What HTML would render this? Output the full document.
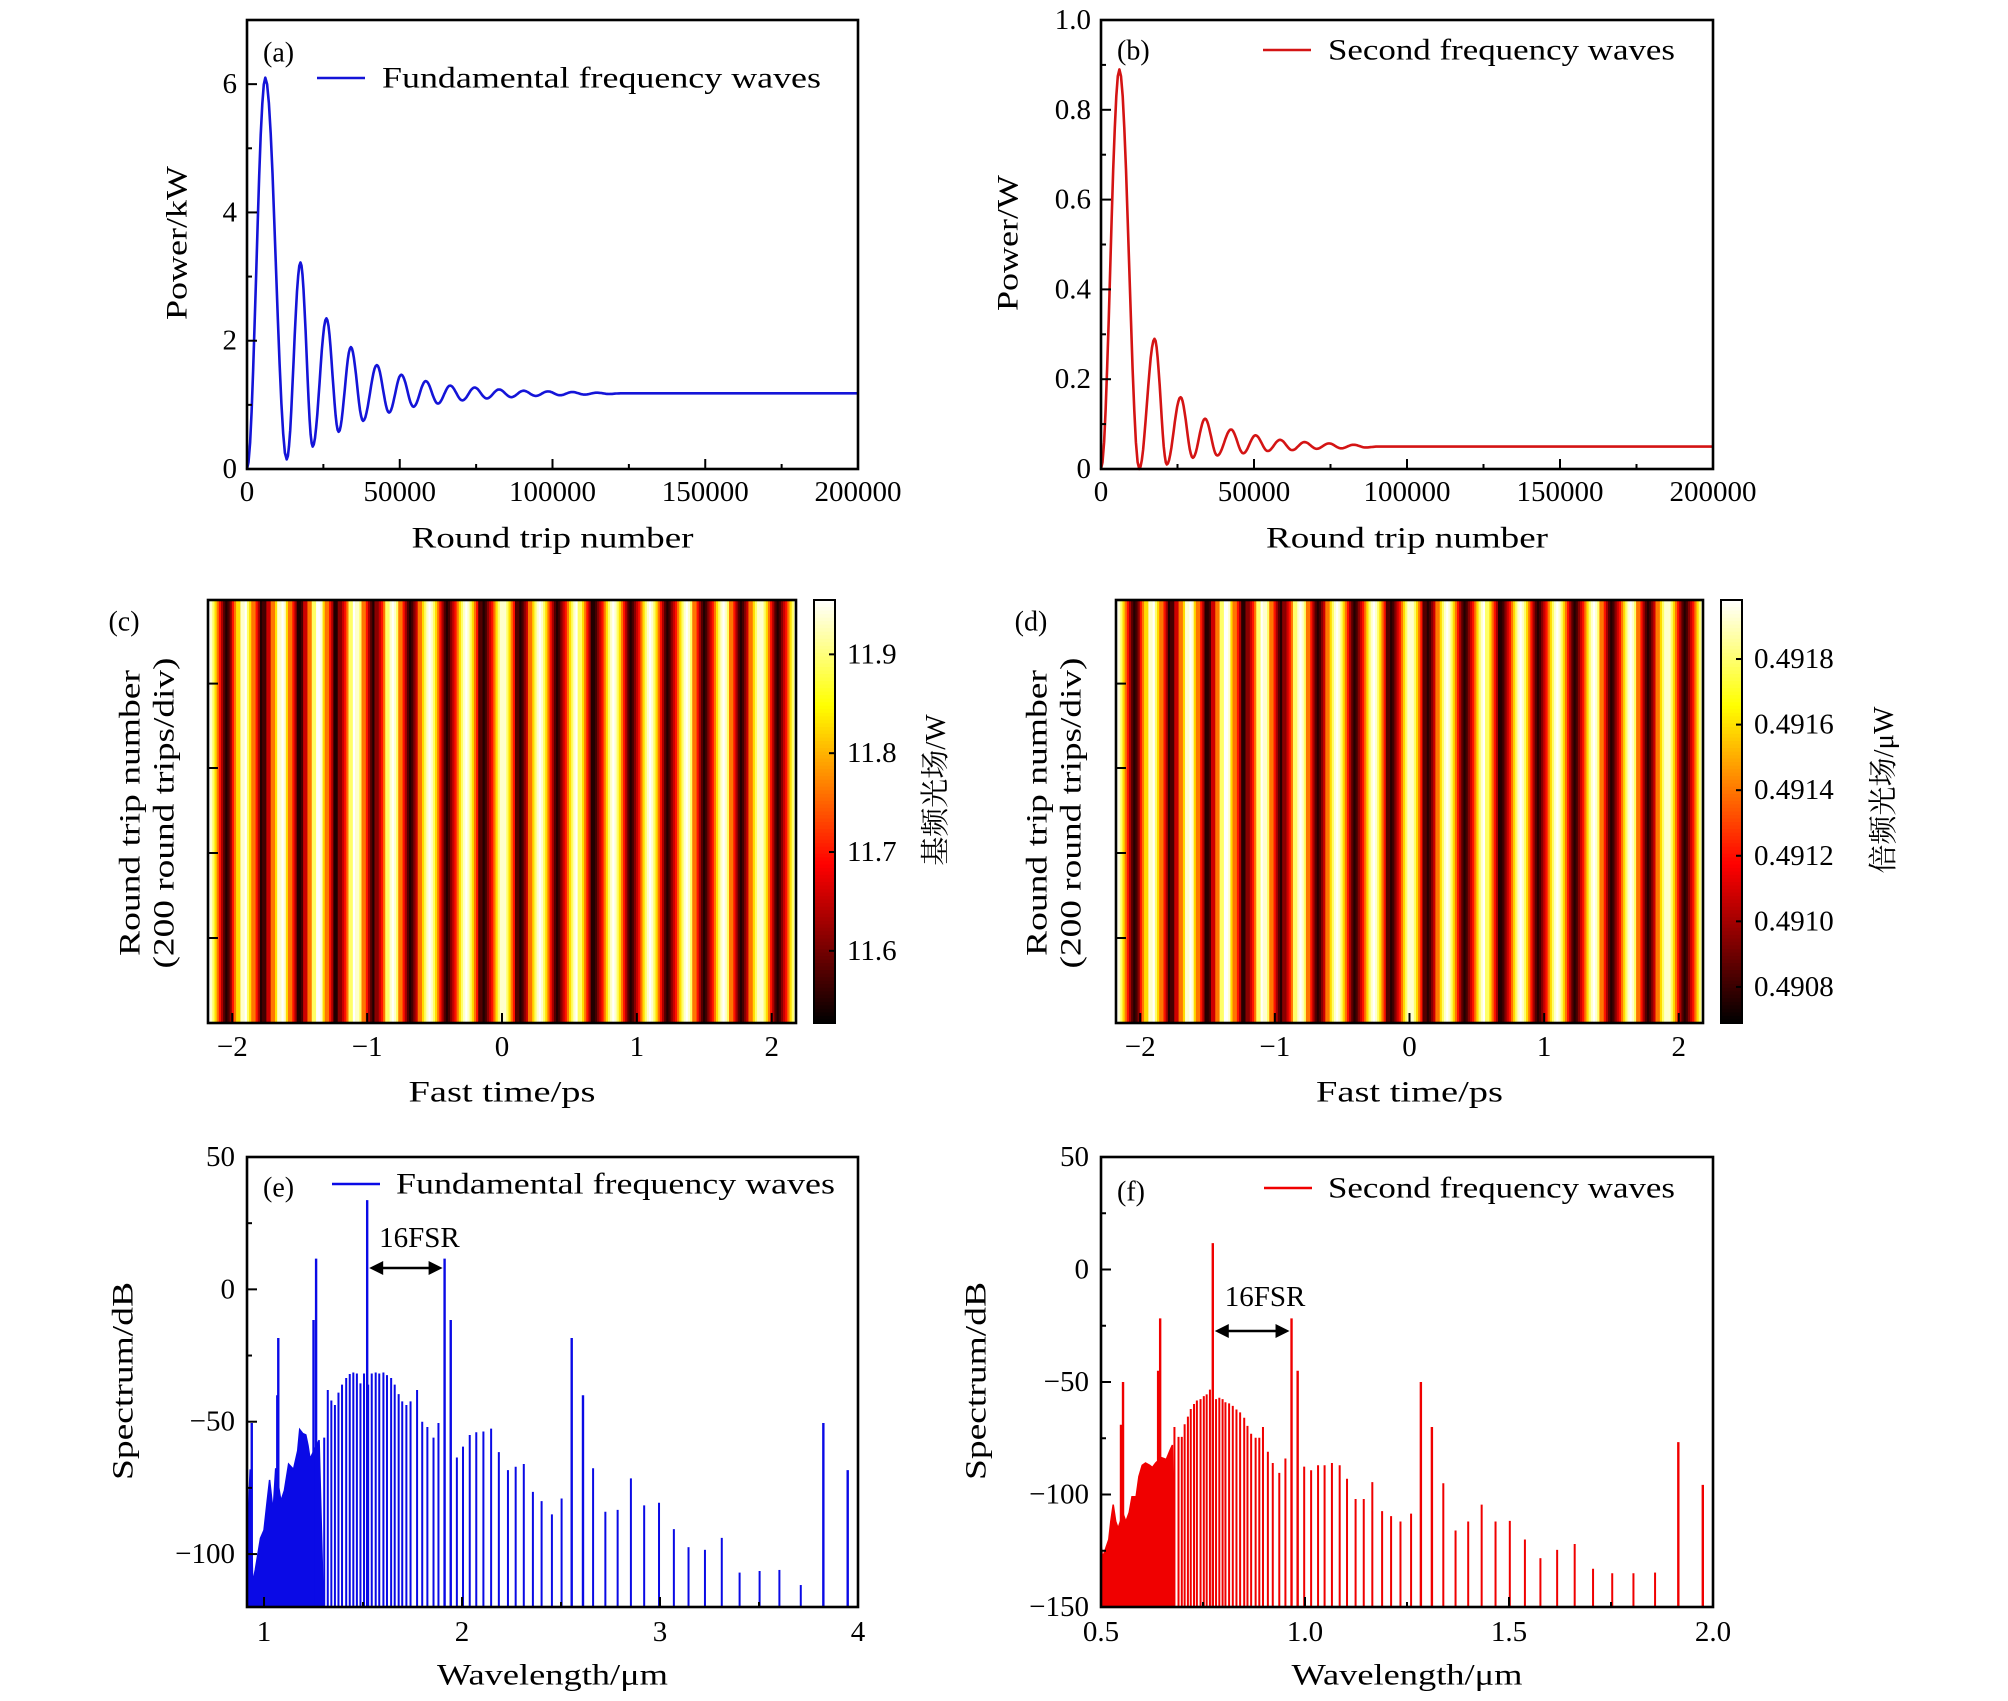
<!DOCTYPE html>
<html><head><meta charset="utf-8"><title>Figure</title>
<style>html,body{margin:0;padding:0;background:#fff}svg{display:block}text{font-family:"Liberation Serif","Noto Serif CJK SC",serif;fill:#000}</style>
</head><body>
<svg id="fig" width="2008" height="1701" viewBox="0 0 2008 1701" xmlns="http://www.w3.org/2000/svg"></svg>
<script>
// ---------- data ----------
const aX=[0,6000,13000,17500,21500,26000,30000,34000,38000,42500,46500,50500,54500,58500,62500,66500,70500,74500,78500,82500,86500,90500,94500,98500,102500,106500,110500,114500,118500,122500,200000];
const aY=[0,6.1,0.15,3.22,0.35,2.35,0.58,1.9,0.75,1.62,0.88,1.47,0.97,1.37,1.02,1.3,1.07,1.27,1.1,1.24,1.12,1.22,1.14,1.21,1.15,1.2,1.16,1.19,1.17,1.18,1.18];
const bX=[0,6000,12500,17500,21500,26000,30000,34000,38000,42500,46500,50500,54500,58500,62500,66500,70500,74500,78500,82500,86500,90500,200000];
const bY=[0,0.89,0.0,0.29,0.01,0.16,0.025,0.112,0.03,0.088,0.035,0.075,0.04,0.065,0.042,0.06,0.045,0.057,0.046,0.054,0.048,0.05,0.05];
const aTicksX=[0,50000,100000,150000,200000];
const aTicksY=[0,2,4,6];
const bTicksY=[0,0.2,0.4,0.6,0.8,1.0];
const bTickLabelsY=["0","0.2","0.4","0.6","0.8","1.0"];

const cProfile=[11.955,11.934,11.891,11.827,11.762,11.698,11.634,11.578,11.548,11.57,11.613,11.655,11.698,11.762,11.827,11.891,11.934];
const dProfile=[0.49198,0.49192,0.49179,0.49159,0.4914,0.49121,0.49101,0.49085,0.49076,0.49082,0.49095,0.49108,0.49121,0.4914,0.49159,0.49179,0.49192];
const cCbTicks=[11.6,11.7,11.8,11.9];
const dCbTicks=[0.4908,0.4910,0.4912,0.4914,0.4916,0.4918];
const hmTicksX=[-2,-1,0,1,2];

const eMajLam=[0.938,1.072,1.067,1.263,1.250,1.521,1.912,1.943,2.554,2.611,3.825,3.948];
const eMajDb=[-50.5,-18.4,-40,11.6,-11.6,33.7,11.6,-11.6,-18.4,-40,-50.5,-68.3];
const eCombLam=[1.304,1.322,1.340,1.358,1.376,1.394,1.415,1.433,1.451,1.469,1.487,1.505,1.526,1.544,1.564,1.582,1.603,1.621,1.642,1.660,1.680,1.698,1.719,1.740,1.773,1.799,1.825,1.856,1.881,1.974,2.005,2.039,2.072,2.108,2.147,2.186,2.232,2.271,2.312,2.358,2.402,2.454,2.503,2.662,2.724,2.786,2.853,2.920,2.995,3.070,3.144,3.227,3.312,3.402,3.503,3.603,3.711];
const eCombDb=[-56,-38,-42,-43.7,-39,-36,-33.5,-32,-31.4,-31.8,-35.5,-31.8,-36,-31.8,-31.4,-31.8,-31.4,-32.4,-33.5,-36,-39.6,-42.3,-43.7,-42.3,-38,-50,-52,-56,-50.5,-63.5,-59.4,-55,-54,-53.7,-52.6,-61.5,-68.3,-67,-66,-76.5,-80,-85,-79,-67.6,-84,-83.3,-71.4,-81.6,-80.6,-90.6,-97.4,-98.4,-93.9,-107,-106.4,-106,-111.7];
const eFillLam=[0.914,0.917,0.930,0.943,0.956,0.982,1.0,1.015,1.028,1.046,1.059,1.085,1.103,1.124,1.149,1.170,1.180,1.196,1.211,1.222,1.232,1.278,1.30];
const eFillDb=[-120,-91,-68,-111,-106,-94,-91,-80.6,-72,-84,-67.6,-80,-76,-66,-68,-61,-53,-54.5,-55,-59,-64,-57,-120];

const fMajLam=[0.554,0.549,0.645,0.640,0.774,0.967,0.982,1.284,1.311,1.915,1.975];
const fMajDb=[-50,-69,-21.7,-45,11.7,-21.7,-45,-50,-70,-76.7,-95.7];
const fCombLam=[0.680,0.690,0.698,0.705,0.713,0.720,0.728,0.735,0.744,0.752,0.759,0.767,0.782,0.790,0.798,0.805,0.814,0.823,0.832,0.841,0.851,0.859,0.868,0.879,0.888,0.897,0.909,0.921,0.937,0.952,0.998,1.015,1.032,1.048,1.066,1.085,1.103,1.124,1.144,1.165,1.189,1.211,1.234,1.260,1.339,1.369,1.400,1.433,1.467,1.502,1.539,1.577,1.618,1.661,1.706,1.753,1.805,1.858];
const fCombDb=[-70,-74.4,-74.4,-68.8,-65.4,-62,-59.8,-58.2,-57.6,-56.3,-55.5,-53.4,-57.6,-57,-57.6,-59,-59.5,-60.6,-62.2,-63.5,-65.9,-69.5,-73,-74.8,-74.8,-70,-81,-86,-90.4,-84,-87.6,-89.2,-87,-87,-86,-87,-93,-102,-102,-94.5,-107.4,-109.6,-112,-108.5,-95,-116,-112,-104.5,-112,-111.7,-120,-128.3,-124.6,-122,-133,-135,-135,-134.7];
const fFillLam=[0.5,0.5,0.504,0.519,0.524,0.530,0.536,0.542,0.554,0.561,0.569,0.576,0.586,0.593,0.601,0.609,0.619,0.626,0.634,0.648,0.660,0.669,0.675,0.68];
const fFillDb=[-150,-122,-128,-120,-112,-104.5,-112,-115,-108.5,-112,-108,-101,-101,-92,-87,-86,-87,-88,-86,-83.6,-84.4,-80.4,-78,-150];
const eTicksX=[1,2,3,4];
const eTicksY=[-100,-50,0,50];
const fTicksX=[0.5,1.0,1.5,2.0];
const fTickLabelsX=["0.5","1.0","1.5","2.0"];
const fTicksY=[-150,-100,-50,0,50];

// ---------- helpers ----------
const NS="http://www.w3.org/2000/svg";
const svg=document.getElementById('fig');
function el(tag,attrs,parent){const e=document.createElementNS(NS,tag);for(const k in attrs)e.setAttribute(k,attrs[k]);(parent||svg).appendChild(e);return e;}
function txt(s,x,y,opts,parent,name){
  const t=el('text',{x:x,y:y,'font-size':opts.size||(opts.len?30:28),'text-anchor':opts.anchor||'middle','dominant-baseline':opts.base||'central'},parent);
  if(opts.rot)t.setAttribute('transform','rotate(-90 '+x+' '+y+')');
  if(opts.len){t.setAttribute('textLength',opts.len);t.setAttribute('lengthAdjust','spacingAndGlyphs');}
  t.textContent=s;
  
  
  return t;
}
function fmt(v){return v<0?'\u2212'+Math.abs(v):String(v);}
function scale(d0,d1,r0,r1){return v=>r0+(v-d0)/(d1-d0)*(r1-r0);}
function frame(g,x0,y0,x1,y1){
  const r=el('rect',{x:x0,y:y0,width:x1-x0,height:y1-y0,fill:'none',stroke:'#000','stroke-width':2.6},g);
  
  
}
function xTicks(g,sx,y1,vals,labels,minors,ly,len){
  vals.forEach((v,i)=>{
    const l=el('line',{x1:sx(v),x2:sx(v),y1:y1,y2:y1-len,stroke:'#000','stroke-width':2},g);
    
    
    txt(labels[i],sx(v),ly,{size:29},g,'x-tick-label');
  });
  minors.forEach(v=>{
    const l=el('line',{x1:sx(v),x2:sx(v),y1:y1,y2:y1-len/2,stroke:'#000','stroke-width':2},g);
    
    
  });
}
function yTicks(g,sy,x0,vals,labels,minors,lx,len){
  vals.forEach((v,i)=>{
    const l=el('line',{x1:x0,x2:x0+len,y1:sy(v),y2:sy(v),stroke:'#000','stroke-width':2},g);
    
    
    if(labels)txt(labels[i],lx,sy(v),{anchor:'end',size:29},g,'y-tick-label');
  });
  minors.forEach(v=>{
    const l=el('line',{x1:x0,x2:x0+len/2,y1:sy(v),y2:sy(v),stroke:'#000','stroke-width':2},g);
    
    
  });
}
function smoothPath(xs,ys,sx,sy){
  let d='M'+sx(xs[0]).toFixed(1)+' '+sy(ys[0]).toFixed(1);
  for(let i=0;i<xs.length-1;i++){
    for(let k=1;k<=12;k++){const t=k/12;const w=(1-Math.cos(Math.PI*t))/2;
      d+=' L'+sx(xs[i]+(xs[i+1]-xs[i])*t).toFixed(1)+' '+sy(ys[i]+(ys[i+1]-ys[i])*w).toFixed(1);}
  }
  return d;
}
function hot(n){n=Math.max(0,Math.min(1,n));
  const r=Math.min(1,n/0.375),g=Math.max(0,Math.min(1,(n-0.375)/0.375)),b=Math.max(0,Math.min(1,(n-0.75)/0.25));
  return 'rgb('+Math.round(r*255)+','+Math.round(g*255)+','+Math.round(b*255)+')';}

// ---------- power panels ----------
function powerPanel(name,x0,x1,xs,ys,ymax,yt,ylab,yminor,color,tag,legend,legLen,lx0,ylabel,ylx,ylen){
  const g=el('g',{});
  
  
  const y0=20,y1=469;
  const sx=scale(0,200000,x0,x1), sy=scale(0,ymax,y1,y0);
  const p=el('path',{d:smoothPath(xs,ys,sx,sy),fill:'none',stroke:color,'stroke-width':2.6,'stroke-linejoin':'round'},g);
  
  
  frame(g,x0,y0,x1,y1);
  xTicks(g,sx,y1,aTicksX,aTicksX.map(String),[25000,75000,125000,175000],492,10);
  yTicks(g,sy,x0,yt,ylab,yminor,x0-10,10);
  txt('Round trip number',(x0+x1)/2,538,{len:282},g,'x-axis-title');
  txt(ylabel,ylx,243,{rot:true,len:ylen},g,'y-axis-title');
  txt(tag,x0+16,tag==='(a)'?53:51,{anchor:'start'},g,'panel-label');
  const ly=tag==='(a)'?78:50;
  const ll=el('line',{x1:lx0,x2:lx0+48,y1:ly,y2:ly,stroke:color,'stroke-width':2.6},g);
  
  
  txt(legend,lx0+65,ly,{anchor:'start',len:legLen},g,'legend-entry');
}
powerPanel('panel-a-fundamental-power',247,858,aX,aY,7,aTicksY,aTicksY.map(String),[1,3,5],'#1414d8','(a)','Fundamental frequency waves',439,317,'Power/kW',177,154);
powerPanel('panel-b-second-power',1101,1713,bX,bY,1,bTicksY,bTickLabelsY,[0.1,0.3,0.5,0.7,0.9],'#d41414','(b)','Second frequency waves',347,1263,'Power/W',1008,136);

// ---------- heatmaps ----------
function heatPanel(name,x0,x1,cb0,prof,vmin,vmax,cbt,cbLabels,cbTitle,cbTitleX,tag,tagX){
  const g=el('g',{});
  
  
  const y0=600,y1=1023,tmin=-2.18,tmax=2.18,P=0.2725,n=prof.length;
  const sx=scale(tmin,tmax,x0,x1);
  const cols=Math.ceil((tmax-tmin)/P*n);
  const dt=P/n;
  for(let i=0;i<cols;i++){
    const t=tmin+i*dt;
    let ph=((t+dt/2)/P+0.5/n)%1; if(ph<0)ph+=1;
    const v=prof[Math.floor(ph*n)%n];
    const a=sx(t),b=Math.min(x1,sx(t+dt));
    const r=el('rect',{x:a.toFixed(2),y:y0,width:(b-a+0.6).toFixed(2),height:y1-y0,fill:hot((v-vmin)/(vmax-vmin))},g);
    
    
  }
  frame(g,x0,y0,x1,y1);
  xTicks(g,sx,y1,hmTicksX,hmTicksX.map(fmt),[],1047,10);
  const ry=[683.6,768,853,938];
  ry.forEach(y=>{const l=el('line',{x1:x0,x2:x0+10,y1:y,y2:y,stroke:'#000','stroke-width':2},g);
    
    });
  txt('Fast time/ps',(x0+x1)/2,1092,{len:187},g,'x-axis-title');
  txt('Round trip number',tagX+6,813,{rot:true,len:286},g,'y-axis-title');
  txt('(200 round trips/div)',tagX+40,813,{rot:true,len:311},g,'y-axis-subtitle');
  txt(tag,tagX,622,{},g,'panel-label');
  // colorbar
  const cbs=scale(vmin,vmax,y1,y0);
  const steps=120;
  for(let k=0;k<steps;k++){
    const r=el('rect',{x:cb0,y:(y0+(y1-y0)*k/steps).toFixed(2),width:21,height:((y1-y0)/steps+0.6).toFixed(2),fill:hot(1-(k+0.5)/steps)},g);
    
    
  }
  const cf=el('rect',{x:cb0,y:y0,width:21,height:y1-y0,fill:'none',stroke:'#000','stroke-width':2},g);
  
  
  cbt.forEach((v,i)=>{
    const l=el('line',{x1:cb0+21,x2:cb0+15,y1:cbs(v),y2:cbs(v),stroke:'#000','stroke-width':2},g);
    
    
    txt(cbLabels[i],cb0+33,cbs(v),{anchor:'start',size:29},g,'colorbar-tick-label');
  });
  txt(cbTitle,cbTitleX,790,{rot:true,size:29},g,'colorbar-title');
}
heatPanel('panel-c-fundamental-heatmap',208,796,814,cProfile,11.527,11.955,cCbTicks,cCbTicks.map(v=>v.toFixed(1)),'基频光场/W',936,'(c)',124);
heatPanel('panel-d-second-heatmap',1116,1703,1721,dProfile,0.49069,0.49198,dCbTicks,dCbTicks.map(v=>v.toFixed(4)),'倍频光场/μW',1884,'(d)',1031);

// ---------- spectra ----------
function specPanel(name,x0,x1,lmin,lmax,dmin,dmax,fillL,fillD,combL,combD,majL,majD,color,xt,xl,xminor,yt,yminor,tag,legend,legLen,lx0,ly,arrowL,arrowR,arrowY,fsrY,ylx){
  const g=el('g',{});
  
  
  const y0=1157,y1=1607;
  const sx=scale(lmin,lmax,x0,x1), sy=scale(dmin,dmax,y1,y0);
  let d='';
  fillL.forEach((l,i)=>{d+=(i?' L':'M')+sx(l).toFixed(1)+' '+sy(fillD[i]).toFixed(1);});
  const fp=el('path',{d:d+' Z',fill:color,stroke:color,'stroke-width':1.5},g);
  
  
  combL.forEach((l,i)=>{
    const ln=el('line',{x1:sx(l),x2:sx(l),y1:y1,y2:sy(combD[i]),stroke:color,'stroke-width':2},g);
    
    
  });
  majL.forEach((l,i)=>{
    const ln=el('line',{x1:sx(l),x2:sx(l),y1:y1,y2:sy(majD[i]),stroke:color,'stroke-width':2.4},g);
    
    
  });
  frame(g,x0,y0,x1,y1);
  xTicks(g,sx,y1,xt,xl,xminor,1632,10);
  yTicks(g,sy,x0,yt,yt.map(fmt),yminor,x0-12,10);
  txt('Wavelength/μm',(x0+x1)/2,1675,{len:231},g,'x-axis-title');
  txt('Spectrum/dB',ylx,1381,{rot:true,len:198},g,'y-axis-title');
  txt(tag,x0+16,ly+4,{anchor:'start'},g,'panel-label');
  const ll=el('line',{x1:lx0,x2:lx0+48,y1:ly,y2:ly,stroke:color,'stroke-width':2.4},g);
  
  
  txt(legend,lx0+64,ly,{anchor:'start',len:legLen},g,'legend-entry');
  const ax0=sx(arrowL)+2,ax1=sx(arrowR)-2;
  const al=el('line',{x1:ax0+12,x2:ax1-12,y1:arrowY,y2:arrowY,stroke:'#000','stroke-width':2.6},g);
  
  
  const h1=el('path',{d:'M'+ax0+' '+arrowY+' L'+(ax0+14)+' '+(arrowY-7)+' L'+(ax0+14)+' '+(arrowY+7)+' Z',fill:'#000'},g);
  
  
  const h2=el('path',{d:'M'+ax1+' '+arrowY+' L'+(ax1-14)+' '+(arrowY-7)+' L'+(ax1-14)+' '+(arrowY+7)+' Z',fill:'#000'},g);
  
  
  txt('16FSR',ax0+10,fsrY,{anchor:'start',size:29},g,'fsr-annotation');
}
specPanel('panel-e-fundamental-spectrum',247,858,0.914,4,-120,50,eFillLam,eFillDb,eCombLam,eCombDb,eMajLam,eMajDb,'#0a0ae6',
  eTicksX,eTicksX.map(String),[1.5,2.5,3.5],eTicksY,[-75,-25,25],'(e)','Fundamental frequency waves',439,332,1184,1.521,1.912,1268,1238,123);
specPanel('panel-f-second-spectrum',1101,1713,0.5,2.0,-150,50,fFillLam,fFillDb,fCombLam,fCombDb,fMajLam,fMajDb,'#f00000',
  fTicksX,fTickLabelsX,[0.75,1.25,1.75],fTicksY,[-125,-75,-25,25],'(f)','Second frequency waves',347,1264,1188,0.774,0.967,1331,1297,976);
</script>
</body></html>
